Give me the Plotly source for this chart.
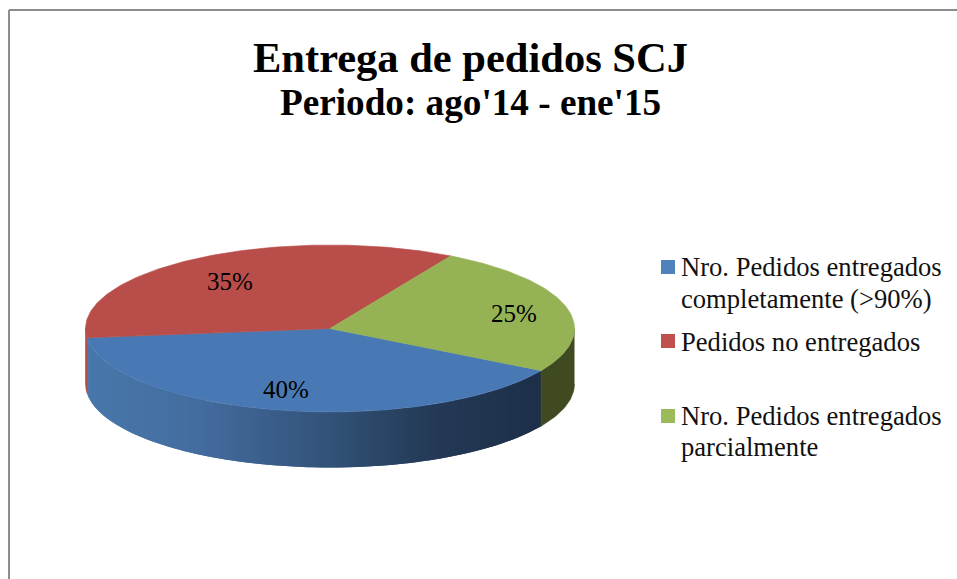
import math
import plotly.graph_objects as go

# ---- data ----
categories = ["Nro. Pedidos entregados<br>completamente (>90%)",
              "Pedidos no entregados",
              "Nro. Pedidos entregados<br>parcialmente"]
values = [39.8, 35.0, 25.2]
title_main = "Entrega de pedidos SCJ"
title_sub = "Periodo: ago'14 - ene'15"

# ---- styling / geometry ----
W, H = 957, 579
FONT = "Liberation Serif"
top_colors = ["#4979B4", "#B84D49", "#95B355"]
swatch_colors = ["#4F81BD", "#C0504D", "#9BBB59"]
side_solid = [None, "#B24A46", "#3F4A21"]
blue_stops = [(85, (72, 120, 172)), (200, (68, 108, 158)), (330, (50, 82, 120)),
              (430, (36, 58, 86)), (545, (29, 47, 72))]
cx, cy, rx, ry, depth = 330.0, 328.5, 244.5, 83.5, 55.5
first_angle = -30.3  # math degrees where the first slice starts, going clockwise
label_pos = [(286, 389.5), (229.5, 281.5), (514, 313)]
legend_y_top = [260, 334, 409]
legend_line_y = [[267, 299], [342], [416, 447]]
LINE_W = 0.6


def pt(deg, dz=0.0):
    a = math.radians(deg)
    return cx + rx * math.cos(a), cy - ry * math.sin(a) + dz


def blue_at(x):
    for (x0, c0), (x1, c1) in zip(blue_stops, blue_stops[1:]):
        if x <= x1:
            t = max(0.0, (x - x0) / (x1 - x0))
            return "rgb(%d,%d,%d)" % tuple(round(p + (q - p) * t) for p, q in zip(c0, c1))
    return "rgb(%d,%d,%d)" % blue_stops[-1][1]


def poly(xs, ys, color, lw=LINE_W):
    return go.Scatter(x=xs, y=ys, mode="lines", fill="toself", fillcolor=color,
                      line=dict(color=color, width=lw), hoverinfo="skip", showlegend=False)


total = sum(values)
spans = []
a = first_angle
for v in values:
    b = a - 360.0 * v / total
    spans.append((a, b))
    a = b

fig = go.Figure()

# side walls (only the front half is visible)
for i, (a0, a1) in enumerate(spans):
    for shift in (0, 360):
        s = min(0.0, a0 + shift)
        e = max(-180.0, a1 + shift)
        if s <= e:
            continue
        n = max(1, int((s - e) / 1.0))
        if side_solid[i]:
            angs = [s - (s - e) * k / n for k in range(n + 1)]
            pts = [pt(d) for d in angs] + [pt(d, depth) for d in reversed(angs)]
            fig.add_trace(poly([p[0] for p in pts], [p[1] for p in pts], side_solid[i]))
        else:
            # painted left to right, each strip reaching under the next to hide seams
            for k in range(n - 1, -1, -1):
                d1 = s - (s - e) * (k + 1) / n
                d0 = s - (s - e) * k / n
                d0_over = max(s - (s - e) * (k - 1) / n, d0) if k > 0 else d0
                d0_over = min(d0_over, s)
                mid = [d1 + (d0_over - d1) * j / 4 for j in range(5)]
                pts = [pt(d) for d in mid] + [pt(d, depth) for d in reversed(mid)]
                x_mid = (pt(d0)[0] + pt(d1)[0]) / 2
                fig.add_trace(poly([p[0] for p in pts], [p[1] for p in pts], blue_at(x_mid), 0))

# top faces
for i, (a0, a1) in enumerate(spans):
    n = max(2, int(abs(a0 - a1)))
    arc = [pt(a0 + (a1 - a0) * k / n) for k in range(n + 1)]
    pts = [(cx, cy)] + arc + [(cx, cy)]
    fig.add_trace(poly([p[0] for p in pts], [p[1] for p in pts], top_colors[i]))

ann = []
for v, (lx, ly) in zip(values, label_pos):
    ann.append(dict(x=lx, y=ly, xref="x", yref="y", text=f"{round(v)}%", showarrow=False,
                    font=dict(family=FONT, size=25, color="#000000")))
ann.append(dict(x=470, y=57, xref="x", yref="y", text=f"<b>{title_main}</b>", showarrow=False,
                font=dict(family=FONT, size=42.5, color="#000000")))
ann.append(dict(x=470, y=102.5, xref="x", yref="y", text=f"<b>{title_sub}</b>", showarrow=False,
                font=dict(family=FONT, size=37.2, color="#000000")))

shapes = []
for cat, sc, ys, lines_y in zip(categories, swatch_colors, legend_y_top, legend_line_y):
    shapes.append(dict(type="rect", xref="x", yref="y", x0=661, x1=675, y0=ys, y1=ys + 14,
                       fillcolor=sc, line=dict(width=0)))
    for part, ty in zip(cat.split("<br>"), lines_y):
        ann.append(dict(x=679.5, y=ty, xref="x", yref="y", xanchor="left", yanchor="middle",
                        align="left", text=part, showarrow=False, borderpad=0,
                        font=dict(family=FONT, size=26.6, color="#111111")))
for x0, y0, x1, y1 in [(9, 10, 960, 10), (9, 10, 9, 585)]:
    shapes.append(dict(type="line", xref="x", yref="y", x0=x0, y0=y0, x1=x1, y1=y1,
                       line=dict(color="#8C8C8C", width=2)))

fig.update_layout(
    width=W, height=H, margin=dict(l=0, r=0, t=0, b=0),
    paper_bgcolor="white", plot_bgcolor="white", showlegend=False,
    xaxis=dict(range=[0, W], visible=False, fixedrange=True),
    yaxis=dict(range=[H, 0], visible=False, fixedrange=True),
    annotations=ann, shapes=shapes,
)
fig.write_html("out.html", config={"displayModeBar": False},
               post_script="document.body.style.margin='0';document.body.style.overflow='hidden';")
